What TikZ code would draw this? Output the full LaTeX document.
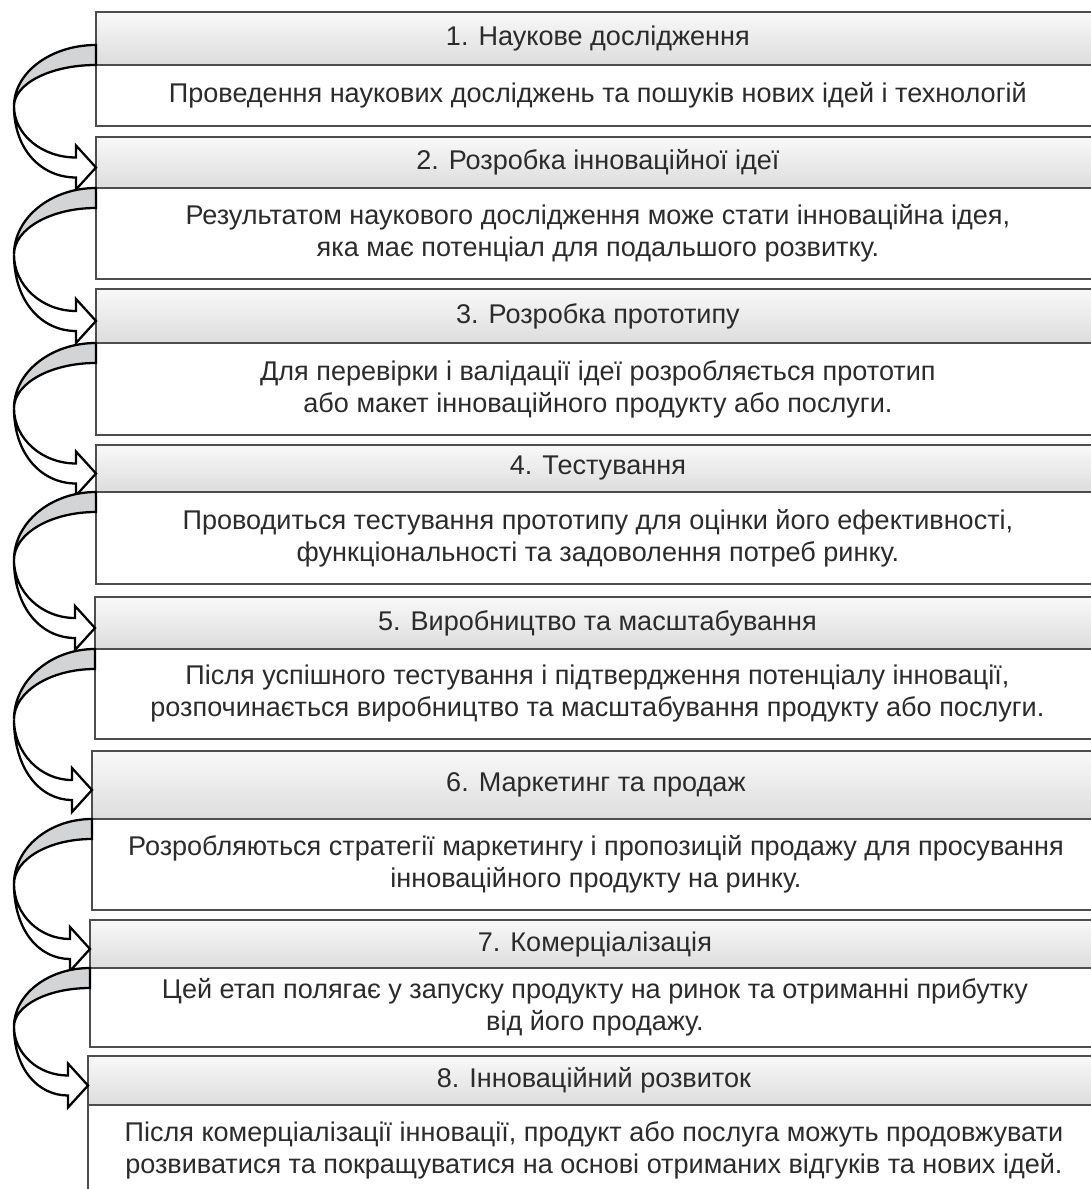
\documentclass[tikz,border=0pt]{standalone}
\usepackage{fontspec}
\setmainfont{Liberation Sans}
\usetikzlibrary{calc}

\definecolor{boxline}{HTML}{4D4D4D}
\definecolor{textgray}{HTML}{2B2B2B}
\definecolor{bandgray}{HTML}{D3D4D6}

\tikzset{
    head/.style={draw=boxline, line width=0.85pt, top color=gray!5, bottom color=gray!27,
        anchor=north west, inner sep=0pt, outer sep=0pt, text=textgray,
        font=\fontsize{15.4}{18.2}\selectfont},
    body/.style={draw=boxline, line width=0.85pt, fill=white, anchor=north west,
        inner sep=0pt, outer sep=0pt, align=center, text=textgray,
        font=\fontsize{15.4}{18.2}\selectfont},
    arrowback/.style={draw=black, line width=1.3pt, fill=bandgray},
    arrowfront/.style={draw=black, line width=1.3pt, fill=white}
}

% Curved arrow from one box (#1, top of the band) round to the next box (#2)
\newcommand{\turnarrow}[2]{%
    % Back of the ribbon, shaded
    \filldraw[arrowback] let \p1=(#1), \p2=($(#2)+(0,5)$) in
        (\p1) .. controls ({(\x1)+0.55*(0.28cm-(\x1))},\y1) and (0.28cm,{0.5*((\y1)+(\y2))+0.55*((\y1)-0.5*((\y1)+(\y2)))}) .. (0.28cm,{0.5*((\y1)+(\y2))})
        .. controls (0.28cm,{0.5*((\y1)+(\y2))+0.55*((\y1)-0.4cm-0.5*((\y1)+(\y2)))}) and ({(\x1)+0.55*(0.28cm-(\x1))},{(\y1)-0.4cm}) .. (\x1,{(\y1)-0.4cm}) -- cycle;
    % Front of the ribbon, with the head
    \filldraw[arrowfront] let \p1=(#1), \p2=($(#2)+(0,5)$) in
        (0.28cm,{0.5*((\y1)+(\y2))})
        .. controls (0.28cm,{0.5*((\y1)+(\y2))+0.55*((\y2)+0.2cm-0.5*((\y1)+(\y2)))}) and ({(\x2)-0.4cm+0.55*(0.68cm-(\x2))},{(\y2)+0.2cm}) .. ({(\x2)-0.4cm},{(\y2)+0.2cm})
        -- ({(\x2)-0.4cm},{(\y2)+0.44cm}) -- (\p2) -- ({(\x2)-0.4cm},{(\y2)-0.44cm}) -- ({(\x2)-0.4cm},{(\y2)-0.2cm})
        .. controls ({(\x2)-0.4cm+0.55*(0.68cm-(\x2))},{(\y2)-0.2cm}) and (0.28cm,{0.5*((\y1)+(\y2))+0.62*((\y2)-0.2cm-0.5*((\y1)+(\y2)))}) .. (0.28cm,{0.5*((\y1)+(\y2))}) -- cycle;
}

\begin{document}
\begin{tikzpicture}[x=0.02cm, y=-0.02cm]
    \useasboundingbox (0,0) rectangle (1091,1189);
    \clip (0,0) rectangle (1091,1189);

    % Stage 1
    \node (h1) [head, minimum width=20.08cm, minimum height=1.06cm] at (96,12) {1. Наукове дослідження};
    \node (b1) [body, minimum width=20.08cm, minimum height=1.22cm] at (h1.south west)
        {Проведення наукових досліджень та пошуків нових ідей і технологій};

    % Stage 2
    \node (h2) [head, minimum width=20.08cm, minimum height=1.02cm] at (96,137) {2. Розробка інноваційної ідеї};
    \node (b2) [body, minimum width=20.08cm, minimum height=1.82cm] at (h2.south west)
        {Результатом наукового дослідження може стати інноваційна ідея,\\ яка має потенціал для подальшого розвитку.};

    % Stage 3
    \node (h3) [head, minimum width=20.08cm, minimum height=1.08cm] at (96,289) {3. Розробка прототипу};
    \node (b3) [body, minimum width=20.08cm, minimum height=1.84cm] at (h3.south west)
        {Для перевірки і валідації ідеї розробляється прототип\\ або макет інноваційного продукту або послуги.};

    % Stage 4
    \node (h4) [head, minimum width=20.08cm, minimum height=0.94cm] at (96,445) {4. Тестування};
    \node (b4) [body, minimum width=20.08cm, minimum height=1.84cm] at (h4.south west)
        {Проводиться тестування прототипу для оцінки його ефективності,\\ функціональності та задоволення потреб ринку.};

    % Stage 5
    \node (h5) [head, minimum width=20.10cm, minimum height=1.04cm] at (95,597) {5. Виробництво та масштабування};
    \node (b5) [body, minimum width=20.10cm, minimum height=1.80cm] at (h5.south west)
        {Після успішного тестування і підтвердження потенціалу інновації,\\ розпочинається виробництво та масштабування продукту або послуги.};

    % Stage 6
    \node (h6) [head, minimum width=20.16cm, minimum height=1.36cm] at (92,751) {6. Маркетинг та продаж};
    \node (b6) [body, minimum width=20.16cm, minimum height=1.82cm] at (h6.south west)
        {Розробляються стратегії маркетингу і пропозицій продажу для просування\\ інноваційного продукту на ринку.};

    % Stage 7
    \node (h7) [head, minimum width=20.20cm, minimum height=0.96cm] at (90,920) {7. Комерціалізація};
    \node (b7) [body, minimum width=20.20cm, minimum height=1.58cm] at (h7.south west)
        {Цей етап полягає у запуску продукту на ринок та отриманні прибутку\\ від його продажу.};

    % Stage 8
    \node (h8) [head, minimum width=20.24cm, minimum height=0.98cm] at (88,1056) {8. Інноваційний розвиток};
    \node (b8) [body, minimum width=20.24cm, minimum height=1.80cm] at (h8.south west)
        {Після комерціалізації інновації, продукт або послуга можуть продовжувати\\ розвиватися та покращуватися на основі отриманих відгуків та нових ідей.};

    % Curved arrows between the stages
    \turnarrow{$(h1.south west)+(0,-20)$}{h2.west}
    \turnarrow{h2.south west}{h3.west}
    \turnarrow{h3.south west}{h4.west}
    \turnarrow{h4.south west}{h5.west}
    \turnarrow{h5.south west}{h6.west}
    \turnarrow{h6.south west}{h7.west}
    \turnarrow{h7.south west}{h8.west}
\end{tikzpicture}
\end{document}
